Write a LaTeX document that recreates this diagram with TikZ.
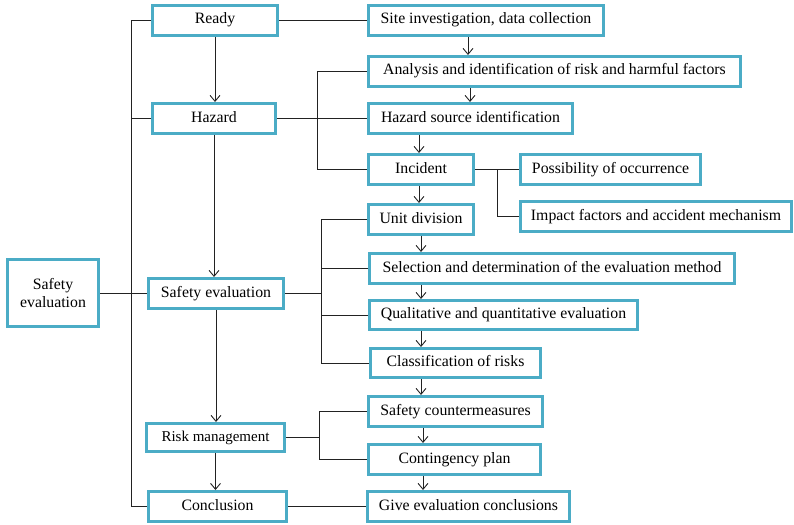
\documentclass[tikz,border=0pt]{standalone}
\usepackage{fontspec}
\setmainfont{Liberation Serif}
\usetikzlibrary{arrows.meta}
\definecolor{boxc}{HTML}{4BACC6}
\definecolor{linec}{HTML}{222222}
\tikzset{
  box/.style={draw=boxc, line width=2.6pt, fill=white, inner sep=1pt,
    font=\fontsize{15.8}{18}\selectfont,
    text height=0.75em, text depth=0.05em},
  twoline/.style={align=center, text height=, text depth=},
  link/.style={draw=linec, line width=0.9pt},
  arr/.style={link, -{Straight Barb[length=6pt,width=10pt]}},
}
% place a box by its centre and outer size
\newcommand{\mybox}[7][]{%
  \node[box, #1, minimum width={#5pt-2.6pt}, minimum height={#6pt-2.6pt}] (#2) at (#3,#4) {#7};}
\begin{document}
\begin{tikzpicture}[x=1pt,y=-1pt]
\useasboundingbox (0,0) rectangle (794,524);

% left column
\mybox[twoline]{safL}{53}{293}{94}{70}{Safety\\evaluation}
% stage column
\mybox{ready}{215}{20.5}{128}{33}{Ready}
\mybox{hazard}{214}{118.5}{126}{33}{Hazard}
\mybox{safM}{216}{293.5}{138}{33}{Safety evaluation}
\mybox{risk}{215.5}{437.5}{141}{31}{\fontsize{15}{17}\selectfont Risk management}
\mybox{concl}{217.5}{506.5}{141}{33}{Conclusion}
% task column
\mybox{site}{486}{20.5}{238}{33}{Site investigation, data collection}
\mybox{ana}{554.5}{71.5}{375}{33}{Analysis and identification of risk and harmful factors}
\mybox{hsrc}{470.5}{118.5}{207}{33}{Hazard source identification}
\mybox{inc}{421}{169.5}{108}{33}{Incident}
\mybox{poss}{610.5}{169.5}{183}{33}{Possibility of occurrence}
\mybox{imp}{656}{216.5}{274}{33}{Impact factors and accident mechanism}
\mybox{unit}{421}{219.5}{108}{33}{Unit division}
\mybox{sel}{552}{268.5}{368}{33}{Selection and determination of the evaluation method}
\mybox{qual}{503.5}{315}{271}{32}{Qualitative and quantitative evaluation}
\mybox{cls}{455.5}{363}{173}{32}{Classification of risks}
\mybox{scm}{455.5}{411.5}{177}{33}{Safety countermeasures}
\mybox{cont}{454.5}{459.5}{175}{33}{Contingency plan}
\mybox{give}{468.5}{506.5}{205}{33}{Give evaluation conclusions}

% bus lines
\coordinate (tk) at (131,0);
\coordinate (hb) at (317,0);
\coordinate (ib) at (497,0);
\coordinate (sb) at (321,0);
\coordinate (rb) at (319,0);

% main trunk
\draw[link] (ready.west) -- (ready.west -| tk) -- (concl.west -| tk) -- (concl.west);
\draw[link] (hazard.west) -- (hazard.west -| tk);
\draw[link] (safL.east) -- (safL.east -| safM.west);

% stage sequence
\draw[arr] (ready.south) -- (ready.south |- hazard.north);
\draw[arr] (hazard.south) -- (hazard.south |- safM.north);
\draw[arr] (safM.south) -- (safM.south |- risk.north);
\draw[arr] (risk.south) -- (risk.south |- concl.north);

% branches to the tasks
\draw[link] (ready.east) -- (site.west);
\draw[link] (hazard.east) -- (hsrc.west);
\draw[link] (ana.west) -- (ana.west -| hb) -- (inc.west -| hb) -- (inc.west);
\draw[link] (inc.east) -- (poss.west);
\draw[link] (inc.east -| ib) -- (imp.west -| ib) -- (imp.west);
\draw[link] (safM.east) -- (safM.east -| sb);
\draw[link] (unit.west) -- (unit.west -| sb) -- (cls.west -| sb) -- (cls.west);
\draw[link] (sel.west) -- (sel.west -| sb);
\draw[link] (qual.west) -- (qual.west -| sb);
\draw[link] (risk.east) -- (risk.east -| rb);
\draw[link] (scm.west) -- (scm.west -| rb) -- (cont.west -| rb) -- (cont.west);
\draw[link] (concl.east) -- (give.west);

% task sequence
\coordinate (a1) at (468,0);
\coordinate (a2) at (470,0);
\coordinate (a3) at (419,0);
\coordinate (a4) at (421,0);
\coordinate (a5) at (423,0);
\draw[arr] (site.south -| a1) -- (ana.north -| a1);
\draw[arr] (ana.south -| a2) -- (hsrc.north -| a2);
\draw[arr] (hsrc.south -| a3) -- (inc.north -| a3);
\draw[arr] (inc.south -| a3) -- (unit.north -| a3);
\draw[arr] (unit.south -| a4) -- (sel.north -| a4);
\draw[arr] (sel.south -| a4) -- (qual.north -| a4);
\draw[arr] (qual.south -| a4) -- (cls.north -| a4);
\draw[arr] (cls.south -| a4) -- (scm.north -| a4);
\draw[arr] (scm.south -| a5) -- (cont.north -| a5);
\draw[arr] (cont.south -| a5) -- (give.north -| a5);
\end{tikzpicture}
\end{document}
